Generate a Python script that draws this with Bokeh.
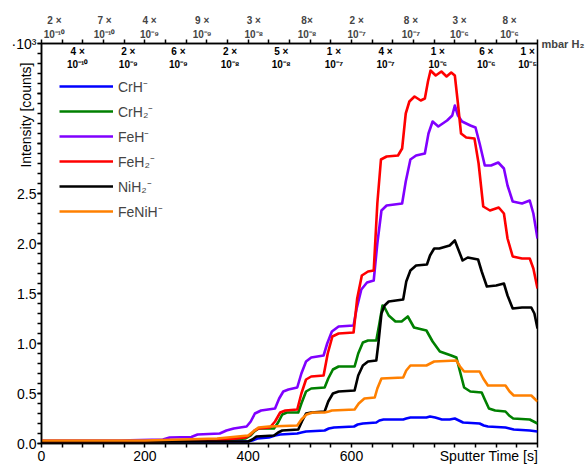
from bokeh.plotting import figure
from bokeh.models import (Range1d, LinearAxis, FixedTicker, SingleIntervalTicker, Title,
                          LabelSet, ColumnDataSource, Legend, LegendItem, NumeralTickFormatter)
from bokeh.core.properties import value
from bokeh.embed import file_html
from bokeh.resources import INLINE

FONT = "Liberation Sans"

# ---- series data: (sputter time [s], intensity [10^3 counts]) ----
crh = [(0,0.02),(200,0.02),(400,0.02),(408,0.03),(418,0.05),(440,0.06),(452,0.08),(462,0.09),
       (495,0.10),(503,0.11),(512,0.12),(548,0.13),(556,0.15),(566,0.16),(605,0.17),(612,0.19),
       (622,0.20),(648,0.21),(654,0.23),(662,0.24),(700,0.24),(706,0.25),(714,0.26),(745,0.26),
       (752,0.27),(762,0.26),(775,0.24),(790,0.24),(800,0.25),(808,0.23),(816,0.21),(848,0.20),
       (856,0.18),(864,0.17),(898,0.16),(906,0.15),(914,0.14),(945,0.13),(960,0.12)]
crh2 = [(0,0.02),(200,0.02),(340,0.03),(395,0.05),(405,0.08),(412,0.12),(420,0.15),(450,0.15),
        (458,0.21),(466,0.29),(475,0.31),(497,0.31),(503,0.40),(512,0.52),(522,0.55),(548,0.56),
        (555,0.65),(564,0.74),(575,0.77),(606,0.77),(613,0.90),(622,1.01),(632,1.03),(648,1.03),
        (654,1.20),(660,1.38),(664,1.36),(672,1.28),(685,1.22),(697,1.22),(709,1.27),(721,1.16),
        (745,1.13),(757,1.02),(771,0.92),(793,0.88),(803,0.86),(810,0.72),(818,0.56),(830,0.52),
        (852,0.51),(858,0.44),(866,0.35),(878,0.33),(898,0.32),(905,0.28),(913,0.25),(945,0.24),
        (960,0.20)]
feh = [(0,0.03),(150,0.03),(235,0.04),(248,0.06),(290,0.065),(302,0.09),(345,0.10),(358,0.13),
       (372,0.15),(397,0.17),(405,0.22),(413,0.30),(425,0.33),(452,0.35),(460,0.45),(468,0.52),
       (478,0.54),(495,0.56),(503,0.70),(512,0.82),(522,0.86),(546,0.88),(553,1.00),(562,1.12),
       (575,1.17),(604,1.18),(610,1.35),(619,1.54),(630,1.61),(643,1.63),(650,2.00),(658,2.33),
       (668,2.38),(698,2.40),(705,2.62),(714,2.84),(725,2.88),(742,2.90),(749,3.10),(757,3.22),
       (768,3.17),(785,3.23),(795,3.28),(800,3.38),(806,3.28),(814,3.22),(830,3.18),(840,3.16),
       (848,3.00),(858,2.78),(870,2.78),(884,2.81),(895,2.75),(902,2.58),(912,2.42),(930,2.40),
       (945,2.43),(952,2.30),(960,2.05)]
feh2 = [(0,0.02),(200,0.02),(340,0.03),(395,0.06),(405,0.09),(412,0.13),(420,0.15),(442,0.16),
        (452,0.22),(462,0.31),(472,0.33),(495,0.34),(503,0.50),(512,0.64),(522,0.67),(546,0.68),
        (554,0.90),(563,1.07),(575,1.10),(604,1.11),(611,1.45),(620,1.68),(632,1.72),(643,1.73),
        (650,2.40),(657,2.84),(668,2.87),(690,2.88),(698,2.95),(705,3.30),(712,3.42),(722,3.47),
        (734,3.43),(742,3.45),(748,3.62),(753,3.73),(763,3.68),(774,3.72),(784,3.67),(793,3.71),
        (800,3.68),(806,3.40),(812,3.10),(822,3.06),(838,3.05),(846,2.80),(855,2.37),(868,2.33),
        (885,2.36),(895,2.30),(902,2.05),(912,1.87),(930,1.85),(945,1.85),(952,1.75),(960,1.55)]
nih2 = [(0,0.02),(300,0.02),(400,0.02),(408,0.04),(416,0.07),(450,0.08),(458,0.11),(466,0.13),
        (497,0.14),(504,0.22),(512,0.30),(522,0.31),(548,0.32),(555,0.42),(564,0.50),(575,0.52),
        (606,0.53),(613,0.68),(622,0.78),(632,0.82),(648,0.83),(652,1.00),(658,1.30),(664,1.38),
        (672,1.42),(700,1.44),(706,1.62),(714,1.73),(725,1.78),(746,1.79),(752,1.88),(760,1.95),
        (770,1.95),(790,1.98),(800,2.03),(806,1.95),(815,1.83),(825,1.86),(845,1.84),(852,1.72),
        (862,1.57),(880,1.58),(895,1.60),(902,1.48),(912,1.35),(930,1.36),(948,1.36),(954,1.30),
        (960,1.15)]
fenih = [(0,0.03),(200,0.03),(340,0.05),(400,0.08),(410,0.12),(420,0.16),(440,0.17),(495,0.18),
         (503,0.24),(513,0.29),(525,0.31),(548,0.31),(556,0.32),(562,0.33),(606,0.34),(614,0.40),
         (625,0.45),(645,0.46),(650,0.55),(658,0.65),(700,0.66),(706,0.73),(714,0.78),(745,0.78),
         (760,0.82),(803,0.83),(810,0.77),(818,0.72),(848,0.72),(855,0.65),(864,0.58),(898,0.58),
         (906,0.52),(914,0.48),(948,0.48),(960,0.42)]

series_names = ["CrH⁻", "CrH₂⁻", "FeH⁻", "FeH₂⁻", "NiH₂⁻", "FeNiH⁻"]
series_data = [crh, crh2, feh, feh2, nih2, fenih]
series_colors = ["#0000ff", "#008000", "#8000ff", "#ff0000", "#000000", "#ff8000"]

# ---- top axis: H2 pressure labels (sputter time at label centre) ----
press_time = [25, 70, 122, 168, 209, 265, 311, 365, 411, 464, 514, 566, 610, 666, 715, 767, 809, 861, 906, 941]
press_coef = ["2 ×", "4 ×", "7 ×", "2 ×", "4 ×", "6 ×", "9 ×", "2 ×", "3 ×", "5 ×",
              "8×", "1 ×", "2 ×", "4 ×", "8 ×", "1 ×", "3 ×", "6 ×", "8 ×", "1 ×"]
press_exp = ["10⁻¹⁰", "10⁻¹⁰", "10⁻¹⁰", "10⁻⁹", "10⁻⁹", "10⁻⁹", "10⁻⁹", "10⁻⁸", "10⁻⁸", "10⁻⁸",
             "10⁻⁸", "10⁻⁷", "10⁻⁷", "10⁻⁷", "10⁻⁷", "10⁻⁶", "10⁻⁶", "10⁻⁶", "10⁻⁶", "10⁻⁵"]

x_major = [0, 200, 400, 600]
x_title_pos = 866
X_MAX = 960
Y_MAX = 4.0
W, H = 587, 466
BT, BB, BL, BR = 43, 21, 41, 49

p = figure(width=W, height=H, output_backend="svg", toolbar_location=None,
           x_range=Range1d(0, X_MAX), y_range=Range1d(0, Y_MAX),
           min_border_left=BL, min_border_right=BR, min_border_top=BT, min_border_bottom=BB)
p.xgrid.visible = False
p.ygrid.visible = False
p.outline_line_color = "black"
p.outline_line_width = 1.5
p.outline_line_alpha = 1.0
p.background_fill_color = "white"
p.border_fill_color = "white"

minor40 = list(range(0, X_MAX + 1, 40))

xa = p.xaxis[0]
xa.ticker = FixedTicker(ticks=x_major + [x_title_pos], minor_ticks=minor40)
xa.major_label_overrides = {x_title_pos: "Sputter Time [s]"}
xa.major_tick_out = 0
xa.major_tick_in = 0
xa.minor_tick_out = 4
xa.minor_tick_in = 0
xa.major_label_standoff = 0

ya = p.yaxis[0]
ya.ticker = SingleIntervalTicker(interval=0.5, num_minor_ticks=5)
ya.formatter = NumeralTickFormatter(format="0.0")
ya.major_label_overrides = {3: "", 3.5: "", 4: "·10³"}
ya.major_tick_in = 0
ya.major_tick_out = 4
ya.minor_tick_in = 0
ya.minor_tick_out = 4
ya.major_label_standoff = 1

for ax in [xa, ya]:
    ax.axis_line_width = 1.5
    ax.axis_line_color = "black"
    ax.major_tick_line_width = 1.5
    ax.minor_tick_line_width = 1.5
    ax.major_label_text_font = FONT
    ax.major_label_text_font_size = "14px"
    ax.major_label_text_color = "black"

# y title: a left-side title, aligned to the top of the frame and pulled in over the labels
ytitle = Title(text="Intensity [counts]", align="right", vertical_align="bottom",
               offset=19, standoff=-50, text_font=FONT, text_font_size="14px",
               text_font_style="normal", text_color="black")
p.add_layout(ytitle, "left")

up = list(range(0, len(press_time), 2))
lo = list(range(1, len(press_time), 2))

top = LinearAxis(ticker=FixedTicker(ticks=[press_time[i] for i in up], minor_ticks=minor40))
top.major_label_overrides = {press_time[i]: press_coef[i] + "\n" + press_exp[i] for i in up}
top.axis_line_width = 1.5
top.minor_tick_line_width = 1.5
top.major_tick_in = 0
top.major_tick_out = 0
top.minor_tick_in = 0
top.minor_tick_out = 4
top.major_label_standoff = 0
top.major_label_text_font = FONT
top.major_label_text_font_style = "bold"
top.major_label_text_font_size = "10px"
top.major_label_text_line_height = 1.2
p.add_layout(top, "above")

right = LinearAxis(ticker=FixedTicker(ticks=[Y_MAX], minor_ticks=[]))
right.major_label_overrides = {Y_MAX: "mbar H₂"}
right.axis_line_color = None
right.major_tick_line_color = None
right.minor_tick_line_color = None
right.major_tick_out = 0
right.major_tick_in = 0
right.minor_tick_out = 0
right.minor_tick_in = 0
right.major_label_standoff = 4
right.major_label_text_font = FONT
right.major_label_text_font_style = "bold"
right.major_label_text_font_size = "11px"
p.add_layout(right, "right")

items = []
for name, data, col in zip(series_names, series_data, series_colors):
    t = [a for a, b in data]
    v = [b for a, b in data]
    r = p.line(t, v, line_color=col, line_width=2.6, line_join="round")
    items.append(LegendItem(label=name, renderers=[r]))

leg = Legend(items=items, location=(18, 222), glyph_width=54, glyph_height=20,
             label_height=20, spacing=5, label_standoff=5, padding=0, margin=0,
             border_line_alpha=0, background_fill_alpha=0,
             label_text_font=FONT, label_text_font_size="14px")
p.add_layout(leg)

src = ColumnDataSource(dict(x=[press_time[i] for i in lo], y=[Y_MAX] * len(lo),
                            c=[press_coef[i] for i in lo], e=[press_exp[i] for i in lo]))
p.add_layout(LabelSet(x="x", y="y", text="c", source=src, y_offset=-8,
                      text_align="center", text_baseline="middle", text_font=value(FONT),
                      text_font_style="bold", text_font_size="10px", text_color="black"))
p.add_layout(LabelSet(x="x", y="y", text="e", source=src, y_offset=-21,
                      text_align="center", text_baseline="middle", text_font=value(FONT),
                      text_font_style="bold", text_font_size="10px", text_color="black"))

open("out.html", "w").write(file_html(p, INLINE))
